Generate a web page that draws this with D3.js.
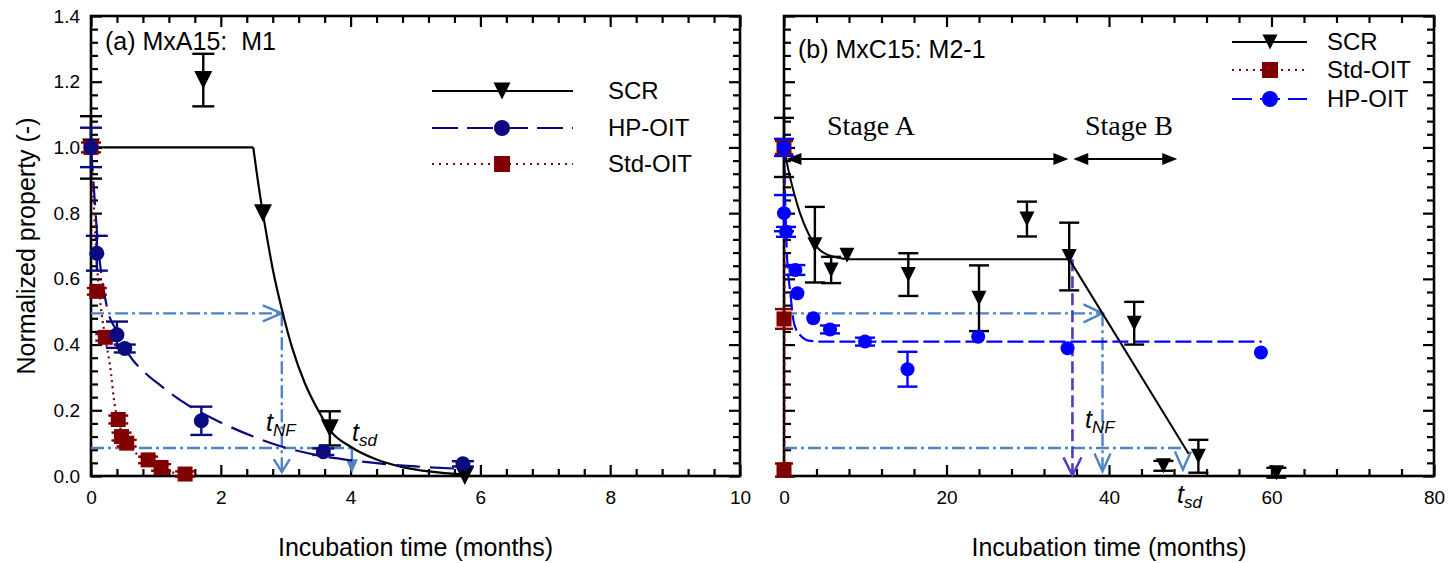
<!DOCTYPE html>
<html>
<head>
<meta charset="utf-8">
<script src="https://cdn.jsdelivr.net/npm/d3@7"></script>
<style>
  body { margin: 0; background: #fff; }
  svg { display: block; font-family: "Liberation Sans", Arial, sans-serif; }
</style>
</head>
<body>
<svg id="chart" width="1451" height="563"></svg>
<script>
// ---------- shared axis ticks ----------
const yTickValues = [0, 0.2, 0.4, 0.6, 0.8, 1.0, 1.2, 1.4];
const yTickLabels = ["0.0", "0.2", "0.4", "0.6", "0.8", "1.0", "1.2", "1.4"];
const xTicksA = [0, 2, 4, 6, 8, 10];
const xTicksB = [0, 20, 40, 60, 80];

// ---------- panel (a) MxA15: M1   [months, value, error] ----------
const scrA = [[0, 1.0, 0.095], [1.73, 1.205, 0.08], [2.65, 0.80, 0], [3.68, 0.145, 0.052], [5.76, 0.0, 0]];
const hpA = [[0, 1.0, 0.06], [0.09, 0.678, 0.053], [0.4, 0.43, 0.04], [0.52, 0.388, 0.012],
             [1.70, 0.168, 0.043], [3.58, 0.074, 0.01], [5.73, 0.037, 0.008]];
const stdA = [[0, 1.0, 0.015], [0.09, 0.562, 0.01], [0.22, 0.422, 0.01], [0.42, 0.172, 0.012],
              [0.47, 0.12, 0.012], [0.55, 0.10, 0.01], [0.88, 0.049, 0.01], [1.08, 0.026, 0.01], [1.45, 0.006, 0.008]];

// fitted trend lines, panel (a)
const scrFlatA = [[0, 1.0], [2.5, 1.0]];
const scrFitA = [[2.5, 1.0], [2.6, 0.86], [2.7, 0.74], [2.8, 0.63], [2.95, 0.5], [3.1, 0.39], [3.3, 0.28],
                 [3.5, 0.2], [3.7, 0.135], [4.0, 0.089], [4.4, 0.05], [4.8, 0.027], [5.2, 0.014], [5.8, 0.004]];
const hpFitA = [[0, 1.0], [0.05, 0.86], [0.1, 0.72], [0.17, 0.6], [0.25, 0.51], [0.4, 0.44], [0.6, 0.365],
                [0.8, 0.32], [1.06, 0.277], [1.5, 0.215], [2.0, 0.163], [2.5, 0.12], [3.0, 0.086],
                [3.5, 0.063], [4.0, 0.048], [4.5, 0.037], [5.0, 0.029], [5.7, 0.022]];
const stdFitA = [[0, 1.0], [0.05, 0.8], [0.1, 0.62], [0.16, 0.5], [0.22, 0.42], [0.29, 0.34], [0.37, 0.21],
                 [0.43, 0.16], [0.5, 0.12], [0.6, 0.09], [0.75, 0.06], [0.9, 0.04], [1.1, 0.02], [1.45, 0.005]];

// life-time markers, panel (a)
const tNFA = 2.94, tSDA = 4.02, levelNF = 0.495, levelSD = 0.085;

// ---------- panel (b) MxC15: M2-1   [months, value, error] ----------
const scrB = [[0, 1.0, 0.09], [3.8, 0.704, 0.115], [5.8, 0.627, 0.04], [7.75, 0.672, 0], [15.3, 0.613, 0.065],
              [24.0, 0.541, 0.1], [29.9, 0.782, 0.053], [35.1, 0.668, 0.103], [43.1, 0.465, 0.065],
              [46.7, 0.031, 0.015], [51.0, 0.06, 0.05], [60.6, 0.01, 0.015]];
const hpB = [[0, 1.0, 0.026], [0, 0.80, 0.055], [0.25, 0.743, 0.015], [1.4, 0.627, 0.015], [1.65, 0.556, 0],
             [3.6, 0.48, 0], [5.66, 0.446, 0.012], [9.97, 0.409, 0.012], [15.2, 0.325, 0.053],
             [23.9, 0.424, 0], [34.9, 0.389, 0], [58.7, 0.376, 0]];
const stdB = [[0, 1.0, 0.02], [0, 0.478, 0.03], [0, 0.018, 0.02]];

// fitted trend lines, panel (b)
const scrFitB = [[0, 1.0], [0.3, 0.96], [0.74, 0.91], [1.3, 0.855], [1.97, 0.80], [3.0, 0.738], [4.4, 0.688],
                 [5.5, 0.672], [6.5, 0.665], [8, 0.66], [35.1, 0.66]];
const scrDropB = [[35.1, 0.66], [49.8, 0.068]];
const hpFitB = [[0, 1.0], [0.1, 0.88], [0.2, 0.79], [0.33, 0.69], [0.5, 0.62], [0.74, 0.566], [1.15, 0.475],
                [1.5, 0.445], [1.97, 0.429], [3.0, 0.412], [4.5, 0.409], [58.8, 0.409]];
const stdFitB = [[0.05, 1.0], [0.05, 0.478], [0.05, 0.018]];

// stage boundaries and life-time markers, panel (b)
const stageA = [0.3, 35.0], stageB = [35.6, 48.4], stageLevel = 0.965;
const tNFB = 39.2, tSDB = 49.3, tPlateauB = 35.5, plateauB = 0.66;

// ---------- styling ----------
const NAVY = "#0b0b80", DARKRED = "#800000", BLUE = "#0000ff", STEEL = "#4f82c4", VIOLET = "#4b3cc4";
const svg = d3.select("#chart");

function makePanel(cfg) {
  const x = d3.scaleLinear().domain(cfg.xDomain).range([cfg.left, cfg.right]);
  const y = d3.scaleLinear().domain([0, 1.4]).range([476, 16]);
  const g = svg.append("g");

  // axes: inward major + minor ticks on all four sides
  const xMinor = d3.range(cfg.xDomain[0], cfg.xDomain[1] + 1e-9, cfg.xMinorStep)
    .filter(v => !cfg.xTicks.some(t => Math.abs(t - v) < 1e-6));
  const yMinor = d3.range(0, 1.4001, 0.04).filter(v => !yTickValues.some(t => Math.abs(t - v) < 1e-6));

  function axisPair(axisFn, scale, majors, minors, transform, labels) {
    const major = axisFn(scale).tickValues(majors).tickSize(-11).tickSizeOuter(0).tickPadding(labels ? cfg.pad : 0);
    major.tickFormat(labels ? labels : () => "");
    const gm = g.append("g").attr("transform", transform).call(major);
    const minor = axisFn(scale).tickValues(minors).tickSize(-7).tickSizeOuter(0).tickFormat(() => "");
    const gn = g.append("g").attr("transform", transform).call(minor);
    [gm, gn].forEach(s => {
      s.select(".domain").remove();
      s.selectAll("line").attr("stroke", "#000").attr("stroke-width", 2.2);
      s.selectAll("text").attr("font-size", 19).attr("fill", "#000")
        .attr("font-family", "Liberation Sans, Arial, sans-serif");
    });
    return gm;
  }
  cfg.pad = 15;
  axisPair(d3.axisBottom, x, cfg.xTicks, xMinor, "translate(0,476)", d => String(d));
  cfg.pad = 0;
  axisPair(d3.axisTop, x, cfg.xTicks, xMinor, "translate(0,16)", null);
  axisPair(d3.axisRight, y, yTickValues, yMinor, `translate(${cfg.right},0)`, null);
  cfg.pad = 11;
  axisPair(d3.axisLeft, y, yTickValues, yMinor, `translate(${cfg.left},0)`,
    cfg.yLabels ? (d, i) => yTickLabels[i] : null);

  g.append("rect").attr("x", cfg.left).attr("y", 16)
    .attr("width", cfg.right - cfg.left).attr("height", 460)
    .attr("fill", "none").attr("stroke", "#000").attr("stroke-width", 2.6);

  // axis titles
  g.append("text").attr("x", (cfg.left + cfg.right) / 2).attr("y", 556)
    .attr("text-anchor", "middle").attr("font-size", 25).text("Incubation time (months)");
  if (cfg.yTitle) {
    g.append("text").attr("transform", `translate(35,${(16 + 476) / 2}) rotate(-90)`)
      .attr("text-anchor", "middle").attr("font-size", 25).text("Normalized property (-)");
  }
  g.append("text").attr("x", cfg.labelX).attr("y", cfg.labelY)
    .attr("font-size", 25).attr("xml:space", "preserve").text(cfg.label);

  return { g, x, y };
}

// ---------- mark helpers ----------
const lineGen = (x, y, curve) => d3.line().x(d => x(d[0])).y(d => y(d[1])).curve(curve || d3.curveLinear);

function drawLine(p, data, opts) {
  p.g.append("path").attr("d", lineGen(p.x, p.y, opts.curve)(data))
    .attr("fill", "none").attr("stroke", opts.color).attr("stroke-width", opts.width || 2)
    .attr("stroke-dasharray", opts.dash || null).attr("stroke-linecap", opts.cap || "butt");
}

function errorBars(p, data, color, capW) {
  data.filter(d => d[2] > 0).forEach(d => {
    const cx = p.x(d[0]), y1 = p.y(d[1] + d[2]), y2 = p.y(d[1] - d[2]);
    p.g.append("line").attr("x1", cx).attr("x2", cx).attr("y1", y1).attr("y2", y2)
      .attr("stroke", color).attr("stroke-width", 2.4);
    [y1, y2].forEach(yy => p.g.append("line").attr("x1", cx - capW / 2).attr("x2", cx + capW / 2)
      .attr("y1", yy).attr("y2", yy).attr("stroke", color).attr("stroke-width", 2.4));
  });
}

function markerPath(shape, s) {
  const h = s / 2;
  if (shape === "tri") return `M${-h},${-h}L${h},${-h}L0,${h}Z`;
  if (shape === "sq") return `M${-h},${-h}H${h}V${h}H${-h}Z`;
  return d3.symbol(d3.symbolCircle, Math.PI * h * h)();
}

function drawMarkers(p, data, shape, size, color) {
  p.g.selectAll(null).data(data).enter().append("path")
    .attr("d", markerPath(shape, size))
    .attr("transform", d => `translate(${p.x(d[0])},${p.y(d[1])})`)
    .attr("fill", color);
}

// open chevron arrow head; dir = "right" | "down"
function chevron(g, tipX, tipY, dir, len, half, color) {
  const pts = dir === "right"
    ? [[tipX - len, tipY - half], [tipX, tipY], [tipX - len, tipY + half]]
    : [[tipX - half, tipY - len], [tipX, tipY], [tipX + half, tipY - len]];
  g.append("path").attr("d", d3.line()(pts)).attr("fill", "none")
    .attr("stroke", color).attr("stroke-width", 2.4);
}

function filledHead(g, tipX, tipY, dir, len, half, color) {
  const pts = {
    right: [[tipX - len, tipY - half], [tipX, tipY], [tipX - len, tipY + half]],
    left: [[tipX + len, tipY - half], [tipX, tipY], [tipX + len, tipY + half]],
    down: [[tipX - half, tipY - len], [tipX, tipY], [tipX + half, tipY - len]]
  }[dir];
  g.append("path").attr("d", d3.line()(pts) + "Z").attr("fill", color);
}

function lifeLabel(g, x, y, sub) {
  const t = g.append("text").attr("x", x).attr("y", y).attr("font-style", "italic")
    .attr("font-size", 25).attr("fill", "#000");
  t.append("tspan").text("t");
  t.append("tspan").attr("font-size", 17).attr("dy", 5).text(sub);
}

function legendRow(g, x1, x2, xm, yy, xt, item) {
  g.append("line").attr("x1", x1).attr("x2", x2).attr("y1", yy).attr("y2", yy)
    .attr("stroke", item.color).attr("stroke-width", item.width || 2)
    .attr("stroke-dasharray", item.dash || null);
  g.append("path").attr("d", markerPath(item.shape, item.size))
    .attr("transform", `translate(${xm},${yy})`).attr("fill", item.color);
  g.append("text").attr("x", xt).attr("y", yy + 8).attr("font-size", 24).text(item.name);
}

const DASHDOT = "13,4,3,4";

// ================= panel (a) =================
const pa = makePanel({
  xDomain: [0, 10], left: 91, right: 740, xTicks: xTicksA, xMinorStep: 0.4,
  yLabels: true, yTitle: true, label: "(a) MxA15:  M1", labelX: 105, labelY: 50
});

// life-time construction lines
{
  const { g, x, y } = pa;
  drawLine(pa, [[0, levelNF], [tNFA, levelNF]], { color: STEEL, width: 2.4, dash: DASHDOT });
  chevron(g, x(tNFA), y(levelNF), "right", 19, 8, STEEL);
  drawLine(pa, [[tNFA, levelNF], [tNFA, 0.012]], { color: STEEL, width: 2.4, dash: DASHDOT });
  chevron(g, x(tNFA), y(0.012), "down", 13, 8, STEEL);
  drawLine(pa, [[0, levelSD], [tSDA, levelSD]], { color: STEEL, width: 2.4, dash: DASHDOT });
  drawLine(pa, [[tSDA, levelSD], [tSDA, 0.04]], { color: STEEL, width: 2.4 });
  filledHead(g, x(tSDA), y(0.008), "down", 14, 6, STEEL);
}

drawLine(pa, scrFlatA, { color: "#000", width: 2.2 });
drawLine(pa, scrFitA, { color: "#000", width: 2.2, curve: d3.curveMonotoneX });
drawLine(pa, hpFitA, { color: NAVY, width: 2.2, dash: "24,10", curve: d3.curveMonotoneX });
drawLine(pa, stdFitA, { color: DARKRED, width: 2.2, dash: "2,4", curve: d3.curveMonotoneX });

errorBars(pa, scrA, "#000", 22);
drawMarkers(pa, scrA, "tri", 18, "#000");
errorBars(pa, stdA, DARKRED, 20);
drawMarkers(pa, stdA, "sq", 15, DARKRED);
errorBars(pa, hpA, NAVY, 22);
drawMarkers(pa, hpA, "circ", 15, NAVY);

lifeLabel(pa.g, 266, 431, "NF");
lifeLabel(pa.g, 352, 441, "sd");

legendRow(pa.g, 432, 573, 502, 91, 608, { name: "SCR", color: "#000", shape: "tri", size: 17 });
legendRow(pa.g, 432, 573, 502, 128, 608, { name: "HP-OIT", color: NAVY, shape: "circ", size: 16, dash: "26,9" });
legendRow(pa.g, 432, 573, 502, 164, 608, { name: "Std-OIT", color: DARKRED, shape: "sq", size: 16, dash: "2,5" });

// ================= panel (b) =================
const pb = makePanel({
  xDomain: [0, 80], left: 784, right: 1434, xTicks: xTicksB, xMinorStep: 4,
  yLabels: false, yTitle: false, label: "(b) MxC15: M2-1", labelX: 798, labelY: 58
});

{
  const { g, x, y } = pb;
  // stage arrows
  g.append("line").attr("x1", x(stageA[0]) + 10).attr("x2", x(stageA[1]) - 10)
    .attr("y1", y(stageLevel)).attr("y2", y(stageLevel)).attr("stroke", "#000").attr("stroke-width", 2);
  filledHead(g, x(stageA[0]), y(stageLevel), "left", 15, 6, "#000");
  filledHead(g, x(stageA[1]), y(stageLevel), "right", 15, 6, "#000");
  g.append("line").attr("x1", x(stageB[0]) + 10).attr("x2", x(stageB[1]) - 10)
    .attr("y1", y(stageLevel)).attr("y2", y(stageLevel)).attr("stroke", "#000").attr("stroke-width", 2);
  filledHead(g, x(stageB[0]), y(stageLevel), "left", 15, 6, "#000");
  filledHead(g, x(stageB[1]), y(stageLevel), "right", 15, 6, "#000");
  g.append("text").attr("x", 827).attr("y", 135).attr("font-family", "Liberation Serif, Times New Roman, serif")
    .attr("font-size", 28).text("Stage A");
  g.append("text").attr("x", 1085).attr("y", 135).attr("font-family", "Liberation Serif, Times New Roman, serif")
    .attr("font-size", 28).text("Stage B");

  // life-time construction lines
  drawLine(pb, [[0, levelNF], [tNFB, levelNF]], { color: STEEL, width: 2.4, dash: DASHDOT });
  chevron(g, x(tNFB), y(levelNF), "right", 19, 9, STEEL);
  drawLine(pb, [[tNFB, levelNF], [tNFB, 0.014]], { color: STEEL, width: 2.4, dash: DASHDOT });
  chevron(g, x(tNFB), y(0.014), "down", 18, 8, STEEL);
  drawLine(pb, [[0, levelSD], [tSDB, levelSD]], { color: STEEL, width: 2.4, dash: DASHDOT });
  chevron(g, x(tSDB - 0.2), y(0.02), "down", 18, 8, STEEL);
  drawLine(pb, [[tPlateauB, plateauB], [tPlateauB, 0.004]], { color: VIOLET, width: 2.6, dash: "12,5" });
  chevron(g, x(tPlateauB), y(0.002), "down", 18, 9, VIOLET);
}

drawLine(pb, scrFitB, { color: "#000", width: 2, curve: d3.curveMonotoneX });
drawLine(pb, scrDropB, { color: "#000", width: 2 });
drawLine(pb, hpFitB, { color: BLUE, width: 2.2, dash: "16,5", curve: d3.curveMonotoneX });
drawLine(pb, stdFitB, { color: DARKRED, width: 2.2, dash: "2,4" });

errorBars(pb, scrB, "#000", 20);
drawMarkers(pb, scrB, "tri", 15, "#000");
errorBars(pb, stdB, DARKRED, 18);
drawMarkers(pb, stdB, "sq", 15, DARKRED);
errorBars(pb, hpB, BLUE, 20);
drawMarkers(pb, hpB, "circ", 14, BLUE);

lifeLabel(pb.g, 1085, 428, "NF");
lifeLabel(pb.g, 1177, 503, "sd");

legendRow(pb.g, 1232, 1307, 1270, 42, 1327, { name: "SCR", color: "#000", shape: "tri", size: 15 });
legendRow(pb.g, 1232, 1307, 1270, 70, 1327, { name: "Std-OIT", color: DARKRED, shape: "sq", size: 16, dash: "2,5" });
legendRow(pb.g, 1232, 1307, 1270, 99, 1327, { name: "HP-OIT", color: BLUE, shape: "circ", size: 16, dash: "20,8" });
</script>
</body>
</html>
